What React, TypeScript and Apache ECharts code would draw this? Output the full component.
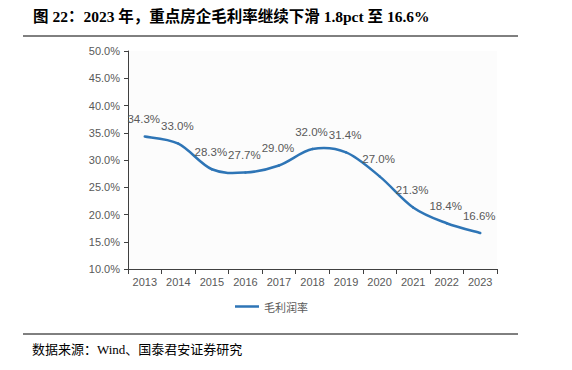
import React, { useEffect, useRef } from "react";
import * as echarts from "echarts";

const years = ["2013", "2014", "2015", "2016", "2017", "2018", "2019", "2020", "2021", "2022", "2023"];
const grossMargin = [34.3, 33.0, 28.3, 27.7, 29.0, 32.0, 31.4, 27.0, 21.3, 18.4, 16.6];
const seriesName = "毛利润率";
const titleText = "图 22：2023 年，重点房企毛利率继续下滑 1.8pct 至 16.6%";
const sourceText = "数据来源：Wind、国泰君安证券研究";
const lineColor = "#2E75B6";

export default function App() {
  const ref = useRef<HTMLDivElement>(null);
  useEffect(() => {
    if (!ref.current) return;
    const chart = echarts.init(ref.current, undefined, { renderer: "svg" });
    const n = grossMargin.length;
    chart.setOption({
      animation: false,
      backgroundColor: "#ffffff",
      grid: { left: 128, right: 75, top: 51, bottom: 101, show: true, backgroundColor: "#fcfcfc", borderWidth: 0 },
      legend: {
        data: [{ name: seriesName, icon: "rect", itemStyle: { color: lineColor, opacity: 1 } }],
        left: 230,
        top: 296,
        itemWidth: 24,
        itemHeight: 2.5,
        itemGap: 3,
        textStyle: { color: "#595959", fontSize: 11, fontFamily: "Noto Sans CJK SC" },
      },
      xAxis: {
        type: "category",
        data: years,
        boundaryGap: true,
        axisLine: { show: true, lineStyle: { color: "#404040", width: 1 } },
        axisTick: { show: true, length: 5, lineStyle: { color: "#404040" } },
        axisLabel: { color: "#595959", fontSize: 11, margin: 7, fontFamily: "Liberation Sans, Arial, sans-serif" },
        splitLine: { show: false },
      },
      yAxis: {
        type: "value",
        min: 10,
        max: 50,
        interval: 5,
        axisLine: { show: true, lineStyle: { color: "#404040", width: 1 } },
        axisTick: { show: true, length: 4, lineStyle: { color: "#404040" } },
        axisLabel: {
          color: "#595959",
          fontSize: 11,
          margin: 8,
          fontFamily: "Liberation Sans, Arial, sans-serif",
          formatter: (v: number) => v.toFixed(1) + "%",
        },
        splitLine: { show: false },
      },
      series: [
        {
          name: "_curve",
          type: "custom",
          coordinateSystem: "cartesian2d",
          silent: true,
          data: grossMargin.map((v, i) => [i, v]),
          renderItem: (params: any, api: any) => {
            const i = params.dataIndex;
            if (i >= n - 1) return null;
            const pt = (j: number) => {
              const k = Math.max(0, Math.min(n - 1, j));
              return api.coord([k, grossMargin[k]]);
            };
            const p0 = pt(i - 1);
            const p1 = pt(i);
            const p2 = pt(i + 1);
            const p3 = pt(i + 2);
            const t = 1 / 6;
            return {
              type: "bezierCurve",
              shape: {
                x1: p1[0],
                y1: p1[1],
                x2: p2[0],
                y2: p2[1],
                cpx1: p1[0] + (p2[0] - p0[0]) * t,
                cpy1: p1[1] + (p2[1] - p0[1]) * t,
                cpx2: p2[0] - (p3[0] - p1[0]) * t,
                cpy2: p2[1] - (p3[1] - p1[1]) * t,
              },
              style: { stroke: lineColor, lineWidth: 2.5, fill: "none", lineCap: "round" },
            };
          },
          z: 3,
        },
        {
          name: seriesName,
          type: "line",
          data: grossMargin,
          symbol: "circle",
          symbolSize: 1,
          showSymbol: true,
          lineStyle: { color: "rgba(0,0,0,0)", width: 0 },
          itemStyle: { color: "rgba(0,0,0,0)", borderWidth: 0 },
          label: {
            show: true,
            position: "top",
            distance: 11,
            offset: [-1, 0],
            color: "#595959",
            fontSize: 11.5,
            fontFamily: "Liberation Sans, Arial, sans-serif",
            formatter: (p: any) => Number(p.value).toFixed(1) + "%",
          },
          z: 4,
        },
      ],
      graphic: [
        {
          type: "text",
          left: 33,
          top: 9,
          style: {
            text: titleText,
            fontSize: 15.5,
            fontWeight: "bold",
            fontFamily: "Liberation Serif, Noto Sans CJK SC, serif",
            fill: "#000000",
          },
        },
        {
          type: "line",
          shape: { x1: 23, y1: 36, x2: 518, y2: 36 },
          style: { stroke: "#000000", lineWidth: 1 },
        },
        {
          type: "line",
          shape: { x1: 23, y1: 334, x2: 518, y2: 334 },
          style: { stroke: "#000000", lineWidth: 1 },
        },
        {
          type: "text",
          left: 32,
          top: 343,
          style: {
            text: sourceText,
            fontSize: 13,
            fontFamily: "Liberation Serif, Noto Sans CJK SC, serif",
            fill: "#000000",
          },
        },
      ],
    });
    return () => chart.dispose();
  }, []);
  return <div ref={ref} style={{ width: 572, height: 370, position: "absolute", left: 0, top: 0 }} />;
}
